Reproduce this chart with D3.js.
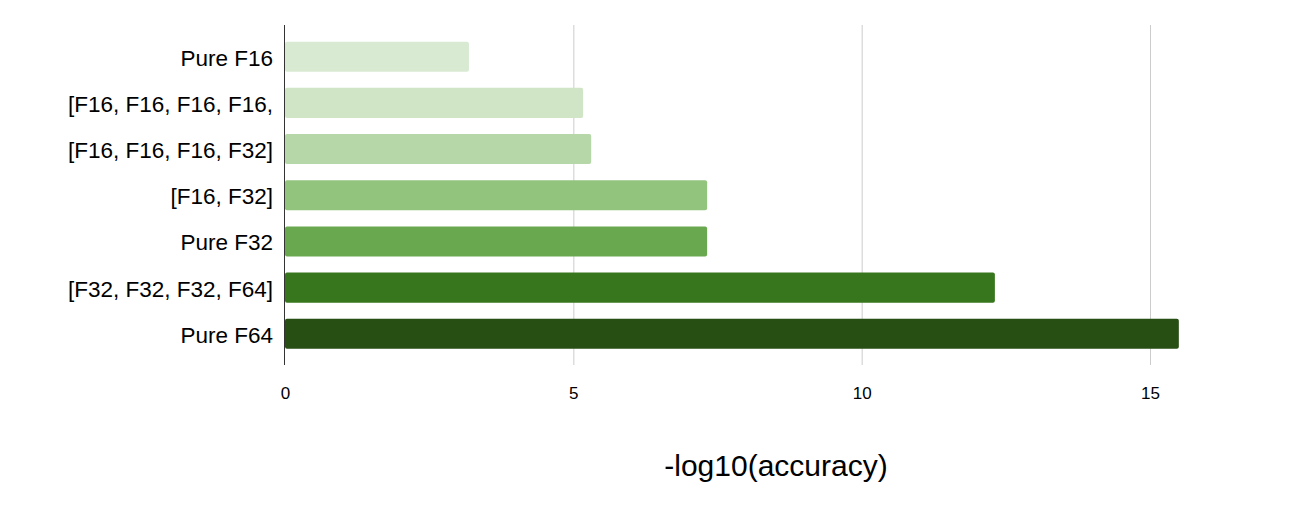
<!DOCTYPE html>
<html><head><meta charset="utf-8">
<script src="https://cdn.jsdelivr.net/npm/d3@7"></script>
<style>body{margin:0;background:#fff}svg{display:block;font-family:"Liberation Sans",Arial,sans-serif}</style>
</head><body><svg id="c" width="1291" height="505"></svg>
<script>
const categories = ["Pure F16","[F16, F16, F16, F16,","[F16, F16, F16, F32]","[F16, F32]","Pure F32","[F32, F32, F32, F64]","Pure F64"];
const values = [3.19, 5.17, 5.31, 7.32, 7.32, 12.31, 15.5];
const colors = ["#d9ead3","#d0e4c6","#b6d7a8","#93c47d","#6aa84f","#38761d","#274e13"];
const xTicks = [0, 5, 10, 15];
const xTitle = "-log10(accuracy)";

const svg = d3.select("#c");
const x = d3.scaleLinear().domain([0, 15]).range([285, 1150]);
const y = d3.scaleBand().domain(categories).range([25.5, 365]).padding(0.35);

svg.append("g").selectAll("line").data(xTicks.filter(d=>d>0)).join("line")
  .attr("x1", d=>x(d)+0.5).attr("x2", d=>x(d)+0.5).attr("y1", 25).attr("y2", 365)
  .attr("stroke", "#cccccc").attr("stroke-width", 1);

svg.append("g").selectAll("rect").data(values).join("rect")
  .attr("x", x(0)).attr("y", (d,i)=>y(categories[i]))
  .attr("width", d=>x(d)-x(0)).attr("height", y.bandwidth())
  .attr("rx", 2).attr("fill", (d,i)=>colors[i]);

svg.append("line").attr("x1", x(0)-0.5).attr("x2", x(0)-0.5).attr("y1", 25).attr("y2", 365)
  .attr("stroke", "#333").attr("stroke-width", 1);

const xa = svg.append("g").attr("transform", "translate(0,365)")
  .call(d3.axisBottom(x).tickValues(xTicks).tickSize(0).tickPadding(22));
xa.select(".domain").remove();
xa.attr("font-size", 17);
xa.selectAll("text").style("font-size", "17px").attr("fill", "#000").attr("font-family", "Liberation Sans, Arial, sans-serif");

const ya = svg.append("g").attr("transform", `translate(${x(0)},0)`)
  .call(d3.axisLeft(y).tickSize(0).tickPadding(12));
ya.select(".domain").remove();
ya.selectAll("text").style("font-size", "22.5px").attr("dy", "0.4em").attr("fill", "#000").attr("font-family", "Liberation Sans, Arial, sans-serif");

svg.append("text").attr("x", 776).attr("y", 476).attr("text-anchor", "middle")
  .attr("font-size", 30).attr("fill", "#000").text(xTitle);
</script></body></html>
